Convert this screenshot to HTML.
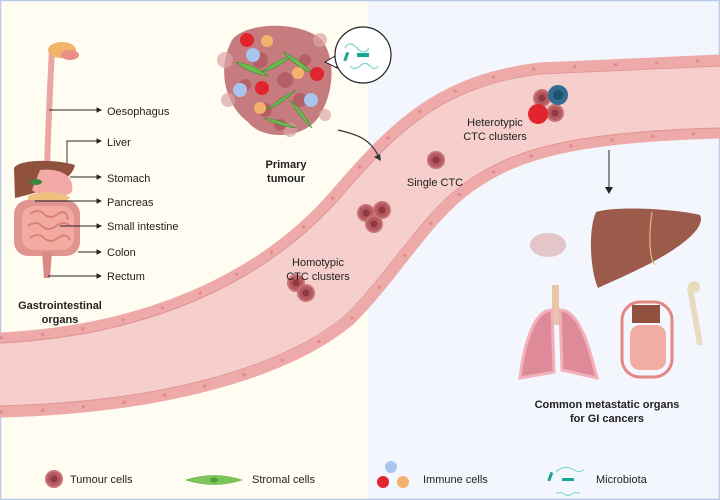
<!DOCTYPE html>
<html><head><style>
html,body{margin:0;padding:0;background:#fff}
svg{display:block}
text{font-family:"Liberation Sans",Arial,sans-serif;fill:#222}
</style></head><body>
<svg width="720" height="500" viewBox="0 0 720 500" xmlns="http://www.w3.org/2000/svg">
<defs>
<g id="cell"><circle r="9" fill="#c77577"/><circle r="7" fill="#b6595f"/><circle r="3.5" fill="#8e3a42"/></g>
</defs>
<rect x="0" y="0" width="720" height="500" fill="#f3f6fd"/>
<rect x="0" y="0" width="368" height="500" fill="#fffcf2"/>
<rect x="0.5" y="0.5" width="719" height="499" fill="none" stroke="#b9cbe6" stroke-width="1.5"/>

<!-- vessel -->
<path d="M0,338 C160,330 270,270 335,195 C395,125 440,80 540,68 L720,60 L720,133 C570,137 520,155 480,180 C430,210 400,270 350,320 C290,370 170,408 0,412 Z" fill="#f6cfcd"/>
<path d="M0,338 C160,330 270,270 335,195 C395,125 440,80 540,68 L720,60" fill="none" stroke="#eeaaa8" stroke-width="11"/>
<path d="M0,412 C170,408 290,370 350,320 C400,270 430,210 480,180 C520,155 570,137 720,133" fill="none" stroke="#eeaaa8" stroke-width="11"/>
<path d="M0,338 C160,330 270,270 335,195 C395,125 440,80 540,68 L720,60" fill="none" stroke="#e08a8c" stroke-width="3" stroke-dasharray="3 38"/>
<path d="M0,412 C170,408 290,370 350,320 C400,270 430,210 480,180 C520,155 570,137 720,133" fill="none" stroke="#e08a8c" stroke-width="3" stroke-dasharray="3 38"/>
<path d="M0,343 C160,335 270,276 339,199 C398,130 443,86 540,74 L720,66" fill="none" stroke="#e09595" stroke-width="1"/>
<path d="M0,406 C170,402 288,364 346,315 C396,265 426,205 477,175 C518,150 570,132 720,128" fill="none" stroke="#e09595" stroke-width="1"/>

<!-- left organs -->
<path d="M52,48 C50,90 48,130 47,170" stroke="#eaa6a2" stroke-width="6" fill="none"/>
<ellipse cx="62" cy="50" rx="14" ry="8" fill="#f0b46a"/>
<ellipse cx="70" cy="55" rx="9" ry="5" fill="#e88f8a"/>
<path d="M14,168 C20,158 60,160 75,165 C72,180 50,190 15,198 Z" fill="#91513f"/>
<path d="M40,170 C60,168 75,175 72,192 C62,200 38,196 32,190 Z" fill="#f2a9a6"/>
<ellipse cx="36" cy="182" rx="6" ry="3" fill="#3a8a3a"/>
<path d="M28,196 C40,190 66,192 70,198 C60,205 40,205 28,200 Z" fill="#f0c07e"/>
<rect x="14" y="200" width="66" height="56" rx="14" fill="#e19590"/>
<rect x="22" y="206" width="52" height="44" rx="12" fill="#f3aaa0"/>
<path d="M30,214 q8,-6 14,0 t14,0 t10,6 M28,226 q8,-6 14,0 t14,0 t14,0 M30,238 q8,-6 14,0 t14,0 t12,2" stroke="#d98279" stroke-width="2" fill="none"/>
<path d="M42,252 L44,278 L50,278 L52,252 Z" fill="#d98a85"/>

<g stroke="#222" stroke-width="0.9" fill="#222">
<line x1="49" y1="110" x2="98" y2="110"/><path d="M101,110 l-4,-2 v4z"/>
<path d="M67,163 V141 H98" fill="none"/><path d="M101,141 l-4,-2 v4z"/>
<line x1="70" y1="177" x2="98" y2="177"/><path d="M101,177 l-4,-2 v4z"/>
<line x1="35" y1="201" x2="98" y2="201"/><path d="M101,201 l-4,-2 v4z"/>
<line x1="60" y1="226" x2="98" y2="226"/><path d="M101,226 l-4,-2 v4z"/>
<line x1="78" y1="252" x2="98" y2="252"/><path d="M101,252 l-4,-2 v4z"/>
<line x1="48" y1="276" x2="98" y2="276"/><path d="M101,276 l-4,-2 v4z"/>
</g>
<g font-size="11">
<text x="107" y="115">Oesophagus</text>
<text x="107" y="146">Liver</text>
<text x="107" y="182">Stomach</text>
<text x="107" y="206">Pancreas</text>
<text x="107" y="230">Small intestine</text>
<text x="107" y="256">Colon</text>
<text x="107" y="280">Rectum</text>
</g>
<g font-size="11" font-weight="bold" text-anchor="middle">
<text x="60" y="309">Gastrointestinal</text>
<text x="60" y="323">organs</text>
<text x="286" y="168">Primary</text>
<text x="286" y="182">tumour</text>
</g>

<!-- primary tumour -->
<path d="M232,40 C245,22 300,20 322,40 C338,62 332,98 318,118 C302,140 262,140 248,122 C226,106 216,70 232,40 Z" fill="#c67b7e"/>
<g fill="#dca5a6" opacity="0.7">
<circle cx="225" cy="60" r="8"/><circle cx="228" cy="100" r="7"/><circle cx="320" cy="40" r="7"/><circle cx="325" cy="115" r="6"/><circle cx="290" cy="130" r="7"/>
</g>
<g fill="#b0585f" opacity="0.8">
<circle cx="260" cy="60" r="8"/><circle cx="285" cy="80" r="8"/><circle cx="300" cy="100" r="7"/><circle cx="265" cy="110" r="7"/><circle cx="305" cy="60" r="6"/><circle cx="245" cy="85" r="6"/><circle cx="280" cy="125" r="6"/>
</g>
<g fill="#6cbd4e" stroke="#3e8e31" stroke-width="0.6">
<path d="M236,62 q20,3 32,14 q-20,-3 -32,-14z"/><path d="M262,72 q14,-12 30,-16 q-14,12 -30,16z"/>
<path d="M283,52 q18,8 30,22 q-18,-8 -30,-22z"/><path d="M266,110 q14,-12 30,-20 q-14,14 -30,20z"/>
<path d="M264,118 q18,2 32,10 q-18,-2 -32,-10z"/><path d="M290,100 q12,10 22,28 q-12,-10 -22,-28z"/>
</g>
<g>
<circle cx="247" cy="40" r="7" fill="#e0262c"/><circle cx="262" cy="88" r="7" fill="#e0262c"/><circle cx="317" cy="74" r="7" fill="#e0262c"/>
<circle cx="267" cy="41" r="6" fill="#f2b26e"/><circle cx="298" cy="73" r="6" fill="#f2b26e"/><circle cx="260" cy="108" r="6" fill="#f2b26e"/>
<circle cx="253" cy="55" r="7" fill="#a9c4ee"/><circle cx="240" cy="90" r="7" fill="#a9c4ee"/><circle cx="311" cy="100" r="7" fill="#a9c4ee"/>
</g>
<path d="M325,62 L337,55 L337,68 Z" fill="#fff" stroke="#222" stroke-width="1"/>
<circle cx="363" cy="55" r="28" fill="#fff" stroke="#222" stroke-width="1.2"/>
<path d="M345,48 q5,-8 12,0 t12,0 M350,66 q5,5 10,0 t10,0 t8,0" stroke="#7fd4cc" fill="none" stroke-width="1.2"/>
<rect x="357" y="53" width="12" height="4" fill="#1aa796"/>
<rect x="345" y="52" width="3" height="9" fill="#1aa796" transform="rotate(20 346 56)"/>
<path d="M338,130 C360,135 370,140 378,155" stroke="#333" fill="none" stroke-width="1.2"/>
<path d="M381,161 l-7,-4 l6,-3z" fill="#333"/>

<!-- CTCs -->
<use href="#cell" x="436" y="160"/>
<use href="#cell" x="366" y="213"/><use href="#cell" x="382" y="210"/><use href="#cell" x="374" y="224"/>
<use href="#cell" x="296" y="283"/><use href="#cell" x="306" y="293"/>
<use href="#cell" x="542" y="98"/><use href="#cell" x="555" y="113"/>
<circle cx="558" cy="95" r="10" fill="#316b8e"/><circle cx="558" cy="95" r="5" fill="#20506e"/>
<circle cx="538" cy="114" r="10" fill="#e0262c"/>
<g font-size="11" text-anchor="middle">
<text x="435" y="186">Single CTC</text>
<text x="318" y="266">Homotypic</text>
<text x="318" y="280">CTC clusters</text>
<text x="495" y="126">Heterotypic</text>
<text x="495" y="140">CTC clusters</text>
</g>
<line x1="609" y1="150" x2="609" y2="188" stroke="#222" stroke-width="1"/>
<path d="M605,187 h8 l-4,7z" fill="#222"/>

<!-- metastatic organs -->
<path d="M596,212 C620,205 680,210 700,215 C705,225 690,240 665,255 C640,270 615,280 598,288 C590,270 588,230 596,212 Z" fill="#9b5a4a"/>
<path d="M652,212 C648,240 650,260 655,265" stroke="#d9b98a" fill="none" stroke-width="1.2"/>
<ellipse cx="548" cy="245" rx="18" ry="12" fill="#e4c6ca"/>
<rect x="552" y="285" width="7" height="40" fill="#e7c7a7"/>
<path d="M552,310 C530,310 522,360 520,378 L554,372 Z M560,310 C582,310 592,360 597,378 L562,370 Z" fill="#de8a98" stroke="#f2b0bb" stroke-width="3"/>
<rect x="622" y="302" width="50" height="75" rx="18" fill="none" stroke="#e28884" stroke-width="3"/>
<rect x="630" y="325" width="36" height="45" rx="10" fill="#f1aca4"/>
<path d="M632,305 h28 v18 h-28z" fill="#91513f"/>
<path d="M690,288 L700,345" stroke="#e7dcc0" stroke-width="6"/>
<circle cx="694" cy="287" r="6" fill="#e7dcc0"/>
<g font-size="11" font-weight="bold" text-anchor="middle">
<text x="607" y="408">Common metastatic organs</text>
<text x="607" y="422">for GI cancers</text>
</g>

<!-- legend -->
<use href="#cell" x="54" y="479"/>
<text x="70" y="483" font-size="11">Tumour cells</text>
<path d="M186,480 q28,-9 56,0 q-28,9 -56,0z" fill="#7fc65a" stroke="#5aa33f" stroke-width="0.6"/>
<ellipse cx="214" cy="480" rx="4" ry="2.5" fill="#4f9e3a"/>
<text x="252" y="483" font-size="11">Stromal cells</text>
<circle cx="391" cy="467" r="6" fill="#a9c4ee"/>
<circle cx="383" cy="482" r="6" fill="#e0262c"/>
<circle cx="403" cy="482" r="6" fill="#f2b26e"/>
<text x="423" y="483" font-size="11">Immune cells</text>
<path d="M556,472 q8,-8 18,-2 q6,4 10,-1 M556,494 q4,-3 8,0 t8,0 t8,0" stroke="#7fd4cc" fill="none"/>
<rect x="562" y="478" width="12" height="3" fill="#1aa796"/>
<rect x="549" y="472" width="3" height="9" fill="#1aa796" transform="rotate(20 550 476)"/>
<text x="596" y="483" font-size="11">Microbiota</text>
</svg>
</body></html>
